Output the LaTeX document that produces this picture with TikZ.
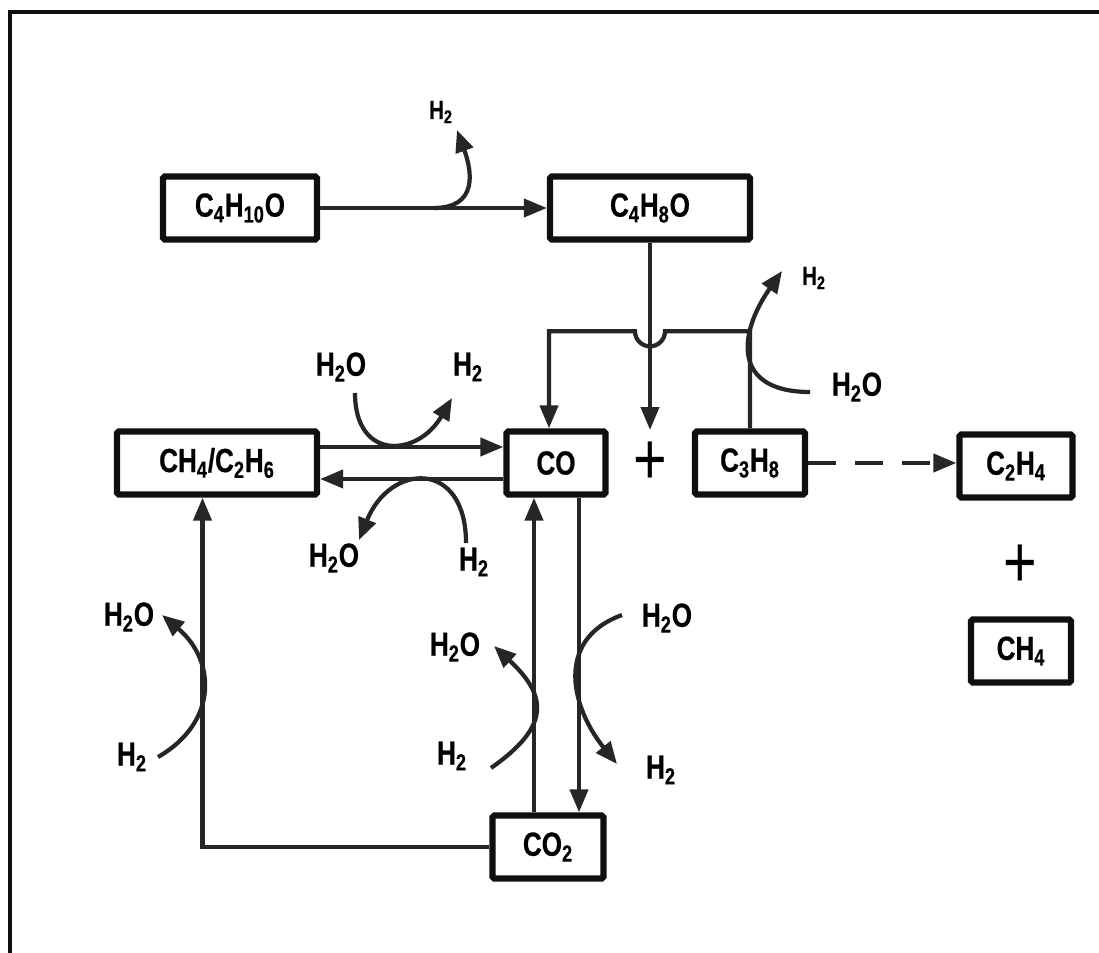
\documentclass[tikz,border=0pt]{standalone}
\usepackage{fontspec}
\setmainfont{Liberation Sans}[FakeStretch=0.78,BoldFeatures={FakeBold=0.6}]
\usepackage{tikz}
\usetikzlibrary{arrows.meta,positioning,calc}
\definecolor{rxblack}{RGB}{15,15,15}
\definecolor{rxgray}{RGB}{38,38,38}

\begin{document}
\begin{tikzpicture}[x=0.02cm,y=-0.02cm,
  specbox/.style={draw=rxblack,line width=3.6pt,rounded corners=1pt,inner sep=0pt,
    minimum height=1.26cm,font=\fontsize{19}{22}\selectfont\bfseries},
  arr/.style={-{Triangle[length=0.46cm,width=0.36cm]},line width=2.4pt,rxgray},
  curvarr/.style={-{Triangle[length=0.44cm,width=0.36cm]},line width=2.4pt,rxgray},
  lbl/.style={inner sep=1pt,font=\fontsize{19}{22}\selectfont\bfseries},
  lblsm/.style={inner sep=1pt,font=\fontsize{15}{18}\selectfont\bfseries},
  plussign/.style={inner sep=0pt,font=\fontsize{42}{42}\selectfont}
]
  \useasboundingbox (0,0) rectangle (1099,953);
  % frame
  \draw[line width=2.8pt,rxblack] (1099,12) -- (10,12) -- (10,953);

  % species
  \node[specbox,minimum width=3.08cm] (c4h10o) at (240,208) {C\textsubscript{4}H\textsubscript{10}O};
  \node[specbox,minimum width=4.0cm] (c4h8o) at (650,208) {C\textsubscript{4}H\textsubscript{8}O};
  \node[specbox,minimum width=4.0cm] (ch4c2h6) at (217,463) {CH\textsubscript{4}/C\textsubscript{2}H\textsubscript{6}};
  \node[specbox,minimum width=1.98cm] (co) at (556,463) {CO};
  \node[specbox,minimum width=2.2cm] (c3h8) at (750,463) {C\textsubscript{3}H\textsubscript{8}};
  \node[specbox,minimum width=2.26cm] (c2h4) at (1016,466) {C\textsubscript{2}H\textsubscript{4}};
  \node[specbox,minimum width=2.0cm] (ch4) at (1021,651) {CH\textsubscript{4}};
  \node[specbox,minimum width=2.22cm] (co2) at (548,847) {CO\textsubscript{2}};
  \node[plussign] (plus1) at (650,463) {+};
  \node[plussign] (plus2) at (1020,566) {+};

  % main arrows
  \draw[arr] (c4h10o) -- (c4h8o);
  \draw[arr] (c4h8o.south) -- ([yshift=0.66cm]plus1.center);
  \draw[arr] (c3h8.north) -- ++(0,-97) -- ++(-85,0)
    arc[start angle=0,end angle=-180,radius=0.3cm] -| ([xshift=-0.14cm]co.north);
  \draw[arr] ([yshift=0.32cm]ch4c2h6.east) -- ([yshift=0.32cm]co.west);
  \draw[arr] ([yshift=-0.32cm]co.west) -- ([yshift=-0.32cm]ch4c2h6.east);
  \draw[arr] ([xshift=-0.44cm]co.south |- co2.north) -- ([xshift=-0.44cm]co.south);
  \draw[arr] ([xshift=0.46cm]co.south) -- ([xshift=0.46cm]co.south |- co2.north);
  \draw[arr] (co2.west) -| ([xshift=-0.29cm]ch4c2h6.south);
  \draw[arr,dash pattern=on 0.56cm off 0.38cm] (c3h8.east) -- (c3h8.east -| c2h4.west);

  % side species
  \node[lblsm] (h2a) at (441,112) {H\textsubscript{2}};
  \node[lbl] (h2ob) at (341,367) {H\textsubscript{2}O};
  \node[lbl] (h2b) at (468,367) {H\textsubscript{2}};
  \node[lbl] (h2oc) at (334,558) {H\textsubscript{2}O};
  \node[lbl] (h2c) at (474,562) {H\textsubscript{2}};
  \node[lblsm] (h2d) at (814,278) {H\textsubscript{2}};
  \node[lbl] (h2od) at (857,387) {H\textsubscript{2}O};
  \node[lbl] (h2oe) at (129,617) {H\textsubscript{2}O};
  \node[lbl] (h2e) at (132,757) {H\textsubscript{2}};
  \node[lbl] (h2of) at (455,647) {H\textsubscript{2}O};
  \node[lbl] (h2f) at (452,756) {H\textsubscript{2}};
  \node[lbl] (h2og) at (667,618) {H\textsubscript{2}O};
  \node[lbl] (h2g) at (661,770) {H\textsubscript{2}};

  % curved side arrows
  \draw[curvarr] ($(c4h10o.east)!0.5!(c4h8o.west)$) to[out=0,in=-70,looseness=1.4] ([shift={(16,18)}]h2a.center);
  \draw[curvarr] ([shift={(14,26)}]h2ob.center) to[out=-90,in=-120,looseness=1.8] ([shift={(-16,31)}]h2b.center);
  \draw[curvarr] ([shift={(-8,-19)}]h2c.center) to[out=90,in=68,looseness=2] ([shift={(25,-18)}]h2oc.center);
  \draw[curvarr] ([shift={(-47,5)}]h2od.center) to[out=180,in=-125,looseness=1.6] ([shift={(-32,-7)}]h2d.center);
  \draw[curvarr] ([shift={(26,0)}]h2e.center) to[out=30,in=-40,looseness=1.26] ([shift={(33,-2)}]h2oe.center);
  \draw[curvarr] ([shift={(39,12)}]h2f.center) to[out=35,in=-43,looseness=1.53] ([shift={(39,-1)}]h2of.center);
  \draw[curvarr] ([shift={(-45,-3)}]h2og.center) to[out=200,in=129,looseness=1.24] ([shift={(-44,-6)}]h2g.center);
\end{tikzpicture}
\end{document}
